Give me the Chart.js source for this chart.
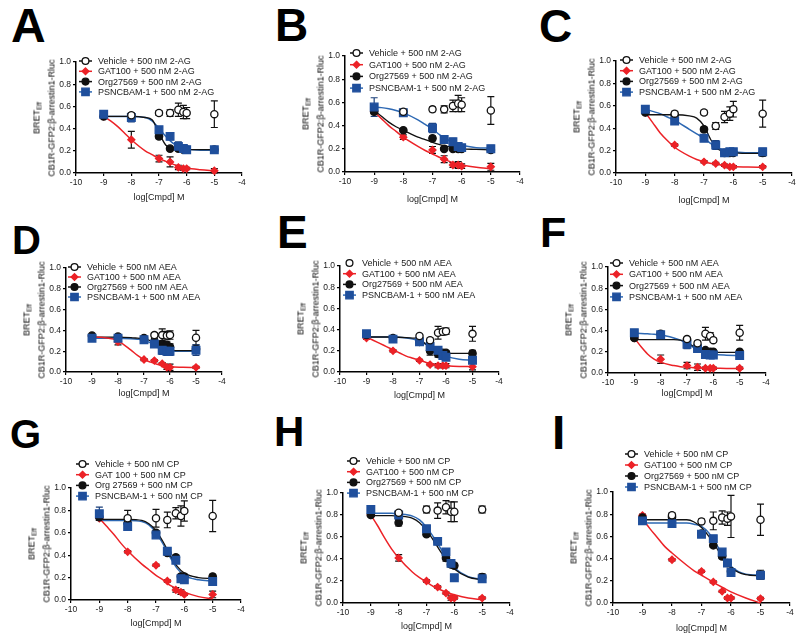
<!DOCTYPE html>
<html>
<head>
<meta charset="utf-8">
<script src="https://cdn.jsdelivr.net/npm/chart.js@4.4.1/dist/chart.umd.min.js"></script>
<style>
  html, body { margin:0; padding:0; background:#fff; }
  body { width:800px; height:638px; position:relative; overflow:hidden; font-family:"Liberation Sans", Arial, sans-serif; }
  canvas { position:absolute; }
  .letter { position:absolute; font-weight:bold; line-height:1; color:#000; }
  .ytitle { position:absolute; transform:translate(-50%,-50%) rotate(-90deg); white-space:nowrap; text-align:center; font-size:9px; line-height:12px; color:#000; }
  .ytitle sub { font-size:6.5px; vertical-align:-2px; }
</style>
</head>
<body>
<div class="letter" style="left:11px;top:2px;font-size:48px">A</div>
<div class="letter" style="left:275px;top:2px;font-size:46px">B</div>
<div class="letter" style="left:539px;top:3px;font-size:46px">C</div>
<div class="letter" style="left:12px;top:220px;font-size:40px">D</div>
<div class="letter" style="left:277px;top:209px;font-size:46px">E</div>
<div class="letter" style="left:540px;top:211px;font-size:43px">F</div>
<div class="letter" style="left:10px;top:414px;font-size:40px">G</div>
<div class="letter" style="left:274px;top:411px;font-size:42px">H</div>
<div class="letter" style="left:552px;top:409px;font-size:48px">I</div>

<script>
// doses (log M) used in every panel, and x positions
const doses = [-9, -8, -7, -6.6, -6.3, -6.12, -6, -5];
const fitX = [-9, -8.75, -8.5, -8.25, -8, -7.5, -7.25, -7, -6.75, -6.5, -6.25, -6, -5.5, -5];

// legend texts
const legend2AG = ['Vehicle + 500 nM 2-AG', 'GAT100 + 500 nM 2-AG', 'Org27569 + 500 nM 2-AG', 'PSNCBAM-1 + 500 nM 2-AG'];
const legendAEA = ['Vehicle + 500 nM AEA', 'GAT100 + 500 nM AEA', 'Org27569 + 500 nM AEA', 'PSNCBAM-1 + 500 nM AEA'];
const legendCPg = ['Vehicle + 500 nM CP', 'GAT 100 + 500 nM CP', 'Org 27569 + 500 nM CP', 'PSNCBAM-1 + 500 nM CP'];
const legendCP = ['Vehicle + 500 nM CP', 'GAT100 + 500 nM CP', 'Org27569 + 500 nM CP', 'PSNCBAM-1 + 500 nM CP'];

/* A: 2-AG */
const vehA = [null, 0.52, 0.54, 0.54, 0.57, 0.55, 0.54, 0.53];
const vehAErr = [0, 0.02, 0.02, 0.03, 0.06, 0.06, 0.05, 0.12];
const gatA = [0.51, 0.30, 0.13, 0.10, 0.05, 0.04, 0.04, 0.02];
const gatAErr = [0.01, 0.075, 0.03, 0.045, 0.02, 0.015, 0.01, 0.02];
const orgA = [0.51, 0.50, 0.33, 0.22, 0.22, 0.21, 0.21, 0.21];
const orgAErr = [0.01, 0.02, 0.02, 0.01, 0.01, 0.01, 0.01, 0.01];
const psnA = [0.53, 0.50, 0.39, 0.33, 0.24, 0.22, 0.21, 0.21];
const psnAErr = [0.03, 0.04, 0.02, 0.03, 0.04, 0.03, 0.03, 0.01];
const gatFitA = [0.51, 0.47, 0.42, 0.36, 0.30, 0.20, 0.165, 0.13, 0.105, 0.08, 0.06, 0.045, 0.03, 0.02];
const orgFitA = [0.51, 0.51, 0.51, 0.51, 0.51, 0.50, 0.48, 0.36, 0.25, 0.22, 0.212, 0.21, 0.21, 0.21];
const psnFitA = [0.51, 0.51, 0.51, 0.51, 0.51, 0.50, 0.47, 0.40, 0.33, 0.27, 0.235, 0.215, 0.205, 0.205];

/* B: 2-AG */
const vehB = [null, 0.52, 0.54, 0.54, 0.57, 0.59, 0.58, 0.53];
const vehBErr = [0, 0.02, 0.02, 0.03, 0.05, 0.07, 0.06, 0.12];
const gatB = [0.52, 0.30, 0.19, 0.11, 0.06, 0.06, 0.05, 0.045];
const gatBErr = [0.01, 0.02, 0.03, 0.03, 0.02, 0.03, 0.02, 0.03];
const orgB = [0.52, 0.36, 0.29, 0.20, 0.20, 0.20, 0.20, 0.19];
const orgBErr = [0.02, 0.01, 0.02, 0.01, 0.01, 0.01, 0.01, 0.01];
const psnB = [0.56, 0.51, 0.38, 0.28, 0.26, 0.22, 0.21, 0.20];
const psnBErr = [0.08, 0.03, 0.04, 0.02, 0.03, 0.03, 0.02, 0.03];
const gatFitB = [0.52, 0.46, 0.40, 0.35, 0.30, 0.22, 0.185, 0.155, 0.125, 0.10, 0.075, 0.06, 0.04, 0.03];
const orgFitB = [0.53, 0.48, 0.43, 0.39, 0.36, 0.30, 0.28, 0.255, 0.235, 0.22, 0.21, 0.20, 0.195, 0.19];
const psnFitB = [0.56, 0.555, 0.545, 0.53, 0.51, 0.45, 0.41, 0.37, 0.32, 0.28, 0.25, 0.23, 0.21, 0.205];

/* C: 2-AG */
const vehC = [null, 0.53, 0.54, 0.42, 0.50, 0.53, 0.57, 0.53];
const vehCErr = [0, 0.02, 0.02, 0.03, 0.05, 0.06, 0.07, 0.12];
const gatC = [0.54, 0.25, 0.10, 0.085, 0.07, 0.055, 0.055, 0.055];
const gatCErr = [0.01, 0.01, 0.01, 0.01, 0.01, 0.01, 0.01, 0.01];
const orgC = [0.54, 0.52, 0.39, 0.25, 0.18, 0.18, 0.18, 0.18];
const orgCErr = [0.01, 0.01, 0.02, 0.03, 0.02, 0.02, 0.02, 0.03];
const psnC = [0.57, 0.465, 0.31, 0.25, 0.18, 0.19, 0.19, 0.19];
const psnCErr = [0.01, 0.02, 0.02, 0.04, 0.03, 0.02, 0.02, 0.03];
const gatFitC = [0.54, 0.45, 0.36, 0.29, 0.23, 0.15, 0.12, 0.10, 0.085, 0.075, 0.065, 0.058, 0.053, 0.052];
const orgFitC = [0.52, 0.52, 0.52, 0.52, 0.52, 0.51, 0.49, 0.42, 0.29, 0.21, 0.185, 0.18, 0.175, 0.175];
const psnFitC = [0.57, 0.55, 0.53, 0.50, 0.47, 0.39, 0.35, 0.31, 0.26, 0.22, 0.20, 0.19, 0.18, 0.18];

/* D: AEA */
const vehD = [null, null, null, 0.355, 0.355, 0.35, 0.355, 0.33];
const vehDErr = [0, 0, 0, 0.02, 0.06, 0.04, 0.04, 0.07];
const gatD = [0.34, 0.29, 0.12, 0.11, 0.08, 0.045, 0.045, 0.045];
const gatDErr = [0.01, 0.03, 0.01, 0.01, 0.01, 0.02, 0.03, 0.01];
const orgD = [0.35, 0.34, 0.325, 0.29, 0.27, 0.26, 0.24, 0.22];
const orgDErr = [0.01, 0.01, 0.01, 0.03, 0.03, 0.03, 0.03, 0.03];
const psnD = [0.325, 0.325, 0.31, 0.27, 0.21, 0.20, 0.20, 0.21];
const psnDErr = [0.01, 0.01, 0.01, 0.02, 0.04, 0.04, 0.04, 0.05];
const gatFitD = [0.34, 0.335, 0.33, 0.32, 0.30, 0.21, 0.16, 0.12, 0.095, 0.075, 0.06, 0.05, 0.045, 0.042];
const orgFitD = [0.335, 0.335, 0.335, 0.335, 0.335, 0.33, 0.325, 0.32, 0.30, 0.26, 0.225, 0.21, 0.205, 0.205];
const psnFitD = [0.325, 0.325, 0.325, 0.325, 0.325, 0.32, 0.315, 0.305, 0.28, 0.24, 0.215, 0.205, 0.20, 0.20];

/* E: AEA */
const vehE = [null, null, 0.34, 0.30, 0.37, 0.38, 0.385, 0.36];
const vehEErr = [0, 0, 0.01, 0.02, 0.06, 0.03, 0.03, 0.07];
const gatE = [0.32, 0.20, 0.11, 0.07, 0.06, 0.06, 0.06, 0.05];
const gatEErr = [0.01, 0.01, 0.01, 0.01, 0.02, 0.02, 0.02, 0.03];
const orgE = [0.35, 0.32, 0.285, 0.20, 0.17, 0.18, 0.18, 0.175];
const orgEErr = [0.01, 0.01, 0.02, 0.04, 0.03, 0.02, 0.02, 0.03];
const psnE = [0.36, 0.31, 0.285, 0.24, 0.205, 0.155, 0.14, 0.11];
const psnEErr = [0.02, 0.02, 0.02, 0.02, 0.02, 0.02, 0.02, 0.03];
const gatFitE = [0.33, 0.30, 0.27, 0.24, 0.21, 0.15, 0.13, 0.11, 0.09, 0.075, 0.065, 0.06, 0.053, 0.05];
const orgFitE = [0.33, 0.33, 0.33, 0.33, 0.33, 0.325, 0.32, 0.31, 0.26, 0.21, 0.185, 0.178, 0.175, 0.175];
const psnFitE = [0.33, 0.33, 0.33, 0.33, 0.33, 0.32, 0.31, 0.29, 0.26, 0.22, 0.18, 0.15, 0.12, 0.11];

/* F: AEA */
const vehF = [null, null, 0.32, 0.28, 0.37, 0.35, 0.31, 0.38];
const vehFErr = [0, 0, 0.01, 0.02, 0.06, 0.03, 0.02, 0.07];
const gatF = [0.33, 0.13, 0.07, 0.055, 0.045, 0.045, 0.045, 0.045];
const gatFErr = [0.01, 0.04, 0.03, 0.03, 0.01, 0.01, 0.01, 0.01];
const orgF = [0.33, 0.37, 0.315, 0.245, 0.215, 0.20, 0.20, 0.20];
const orgFErr = [0.01, 0.01, 0.01, 0.02, 0.01, 0.01, 0.01, 0.01];
const psnF = [0.38, 0.36, 0.27, 0.23, 0.175, 0.17, 0.17, 0.165];
const psnFErr = [0.03, 0.01, 0.04, 0.02, 0.02, 0.02, 0.02, 0.02];
const gatFitF = [0.33, 0.25, 0.18, 0.13, 0.10, 0.07, 0.06, 0.055, 0.05, 0.047, 0.045, 0.045, 0.043, 0.043];
const orgFitF = [0.315, 0.315, 0.315, 0.315, 0.315, 0.315, 0.31, 0.29, 0.25, 0.215, 0.20, 0.195, 0.195, 0.195];
const psnFitF = [0.375, 0.373, 0.37, 0.365, 0.36, 0.33, 0.31, 0.28, 0.24, 0.21, 0.185, 0.175, 0.168, 0.165];

/* G: CP */
const vehG = [null, 0.73, 0.73, 0.715, 0.775, 0.75, 0.795, 0.75];
const vehGErr = [0, 0.07, 0.08, 0.07, 0.05, 0.09, 0.09, 0.14];
const gatG = [0.73, 0.43, 0.31, 0.17, 0.09, 0.07, 0.05, 0.05];
const gatGErr = [0.01, 0.01, 0.01, 0.01, 0.02, 0.02, 0.01, 0.03];
const orgG = [0.74, 0.685, 0.60, 0.42, 0.38, 0.21, 0.21, 0.21];
const orgGErr = [0.03, 0.03, 0.02, 0.02, 0.02, 0.02, 0.02, 0.02];
const psnG = [0.77, 0.655, 0.58, 0.435, 0.355, 0.19, 0.18, 0.165];
const psnGErr = [0.06, 0.03, 0.02, 0.02, 0.02, 0.03, 0.03, 0.02];
const gatFitG = [0.73, 0.66, 0.59, 0.51, 0.44, 0.32, 0.27, 0.22, 0.18, 0.13, 0.10, 0.07, 0.03, 0.01];
const orgFitG = [0.72, 0.72, 0.72, 0.72, 0.72, 0.71, 0.68, 0.62, 0.52, 0.40, 0.30, 0.24, 0.20, 0.19];
const psnFitG = [0.71, 0.71, 0.71, 0.71, 0.71, 0.70, 0.67, 0.60, 0.50, 0.38, 0.28, 0.22, 0.18, 0.17];

/* H: CP */
const vehH = [null, 0.82, 0.85, 0.84, 0.87, 0.83, 0.83, 0.85];
const vehHErr = [0, 0.01, 0.03, 0.07, 0.06, 0.09, 0.09, 0.03];
const gatH = [0.80, 0.41, 0.20, 0.145, 0.09, 0.045, 0.045, 0.045];
const gatHErr = [0.01, 0.03, 0.01, 0.01, 0.01, 0.02, 0.01, 0.01];
const orgH = [0.80, 0.73, 0.625, 0.56, 0.41, 0.35, 0.34, 0.235];
const orgHErr = [0.01, 0.03, 0.02, 0.02, 0.03, 0.02, 0.02, 0.03];
const psnH = [0.85, 0.80, 0.675, 0.56, 0.465, 0.36, 0.23, 0.22];
const psnHErr = [0.02, 0.02, 0.02, 0.02, 0.02, 0.03, 0.02, 0.02];
const gatFitH = [0.80, 0.70, 0.59, 0.49, 0.41, 0.28, 0.23, 0.19, 0.15, 0.12, 0.095, 0.075, 0.045, 0.03];
const orgFitH = [0.795, 0.795, 0.795, 0.795, 0.79, 0.77, 0.73, 0.66, 0.57, 0.47, 0.38, 0.31, 0.235, 0.21];
const psnFitH = [0.815, 0.815, 0.815, 0.815, 0.81, 0.79, 0.755, 0.69, 0.60, 0.50, 0.40, 0.32, 0.24, 0.215];

/* I: CP */
const vehI = [null, 0.79, 0.735, 0.74, 0.77, 0.76, 0.78, 0.75];
const vehIErr = [0, 0.02, 0.02, 0.08, 0.06, 0.06, 0.19, 0.14];
const gatI = [0.79, 0.39, 0.285, 0.19, 0.105, 0.045, 0.045, 0.04];
const gatIErr = [0.01, 0.01, 0.01, 0.01, 0.01, 0.01, 0.01, 0.01];
const orgI = [0.77, 0.775, 0.625, 0.52, 0.42, 0.36, 0.285, 0.255];
const orgIErr = [0.01, 0.01, 0.02, 0.02, 0.02, 0.03, 0.02, 0.04];
const psnI = [0.74, 0.715, 0.62, 0.58, 0.46, 0.36, 0.275, 0.25];
const psnIErr = [0.01, 0.02, 0.02, 0.02, 0.02, 0.03, 0.02, 0.03];
const gatFitI = [0.76, 0.67, 0.59, 0.51, 0.45, 0.34, 0.29, 0.25, 0.21, 0.17, 0.135, 0.10, 0.045, 0.0];
const orgFitI = [0.75, 0.75, 0.75, 0.75, 0.75, 0.75, 0.73, 0.68, 0.60, 0.50, 0.40, 0.32, 0.255, 0.245];
const psnFitI = [0.72, 0.72, 0.72, 0.72, 0.72, 0.72, 0.71, 0.69, 0.63, 0.53, 0.42, 0.33, 0.26, 0.25];

const RED = '#ec2227', BLACK = '#111', BLUE = '#1f4f9c', BLUE_LINE = '#2d68b3';
const FONT = '"Liberation Sans", Arial, sans-serif';

// where each panel's axes sit on the page
const panels = [
  { X0:76,  X1:242, Y1:62,  Y0:173, xh:34, pt:10, lx:3,  ly:-1,  gap:10.3, labels:legend2AG, vehLine:true,
    veh:vehA, vehE:vehAErr, gat:gatA, gatE:gatAErr, org:orgA, orgE:orgAErr, psn:psnA, psnE:psnAErr, gf:gatFitA, of:orgFitA, pf:psnFitA },
  { X0:345, X1:520, Y1:56,  Y0:172, xh:37, pt:10, lx:5,  ly:-3,  gap:11.7, labels:legend2AG, vehLine:true,
    veh:vehB, vehE:vehBErr, gat:gatB, gatE:gatBErr, org:orgB, orgE:orgBErr, psn:psnB, psnE:psnBErr, gf:gatFitB, of:orgFitB, pf:psnFitB },
  { X0:616, X1:792, Y1:61,  Y0:173, xh:37, pt:10, lx:4,  ly:-1,  gap:10.7, labels:legend2AG, vehLine:true,
    veh:vehC, vehE:vehCErr, gat:gatC, gatE:gatCErr, org:orgC, orgE:orgCErr, psn:psnC, psnE:psnCErr, gf:gatFitC, of:orgFitC, pf:psnFitC },
  { X0:66,  X1:222, Y1:268, Y0:372, xh:31, pt:10, lx:2,  ly:-1,  gap:10,   labels:legendAEA, vehLine:true,
    veh:vehD, vehE:vehDErr, gat:gatD, gatE:gatDErr, org:orgD, orgE:orgDErr, psn:psnD, psnE:psnDErr, gf:gatFitD, of:orgFitD, pf:psnFitD },
  { X0:340, X1:499, Y1:266, Y0:372, xh:33, pt:10, lx:3,  ly:-3,  gap:10.7, labels:legendAEA, vehLine:false,
    veh:vehE, vehE:vehEErr, gat:gatE, gatE:gatEErr, org:orgE, orgE:orgEErr, psn:psnE, psnE:psnEErr, gf:gatFitE, of:orgFitE, pf:psnFitE },
  { X0:608, X1:766, Y1:267, Y0:373, xh:30, pt:10, lx:2,  ly:-4,  gap:11.3, labels:legendAEA, vehLine:true,
    veh:vehF, vehE:vehFErr, gat:gatF, gatE:gatFErr, org:orgF, orgE:orgFErr, psn:psnF, psnE:psnFErr, gf:gatFitF, of:orgFitF, pf:psnFitF },
  { X0:71,  X1:241, Y1:488, Y0:600, xh:33, pt:32, lx:5,  ly:-24, gap:10.7, labels:legendCPg, vehLine:true,
    veh:vehG, vehE:vehGErr, gat:gatG, gatE:gatGErr, org:orgG, orgE:orgGErr, psn:psnG, psnE:psnGErr, gf:gatFitG, of:orgFitG, pf:psnFitG },
  { X0:343, X1:510, Y1:493, Y0:603, xh:33, pt:40, lx:4,  ly:-32, gap:10.7, labels:legendCP, vehLine:true,
    veh:vehH, vehE:vehHErr, gat:gatH, gatE:gatHErr, org:orgH, orgE:orgHErr, psn:psnH, psnE:psnHErr, gf:gatFitH, of:orgFitH, pf:psnFitH },
  { X0:613, X1:790, Y1:492, Y0:603, xh:35, pt:45, lx:12, ly:-38, gap:11,   labels:legendCP, vehLine:true,
    veh:vehI, vehE:vehIErr, gat:gatI, gatE:gatIErr, org:orgI, orgE:orgIErr, psn:psnI, psnE:psnIErr, gf:gatFitI, of:orgFitI, pf:psnFitI }
];

function pts(ys, errs) {
  let out = [];
  doses.forEach((x, i) => { if (ys[i] != null) out.push({ x: x, y: ys[i], e: errs[i] }); });
  return out;
}
function curve(ys) { return fitX.map((x, i) => ({ x: x, y: ys[i] })); }

function marker(ctx, style, x, y, color, fill) {
  ctx.save();
  ctx.fillStyle = fill; ctx.strokeStyle = color; ctx.lineWidth = 1.3;
  ctx.beginPath();
  if (style === 'circle') ctx.arc(x, y, 3.4, 0, Math.PI * 2);
  else if (style === 'rect') ctx.rect(x - 3.7, y - 3.7, 7.4, 7.4);
  else { ctx.moveTo(x, y - 3.4); ctx.lineTo(x + 3.4, y); ctx.lineTo(x, y + 3.4); ctx.lineTo(x - 3.4, y); ctx.closePath(); }
  ctx.fill(); ctx.stroke();
  ctx.restore();
}

// GraphPad-like legend inside / above the plot
const panelLegend = {
  id: 'panelLegend',
  afterDraw(chart, args, o) {
    const ctx = chart.ctx, a = chart.chartArea;
    ctx.save();
    ctx.font = '9px ' + FONT;
    ctx.textBaseline = 'middle';
    let y = a.top + o.dy;
    o.items.forEach(it => {
      const x0 = a.left + o.dx;
      if (it.line) {
        ctx.strokeStyle = it.lineColor; ctx.lineWidth = 1.5;
        ctx.beginPath(); ctx.moveTo(x0, y); ctx.lineTo(x0 + 13, y); ctx.stroke();
      }
      marker(ctx, it.style, x0 + 6.5, y, it.color, it.fill);
      ctx.fillStyle = '#1a1a1a';
      ctx.fillText(it.text, x0 + 19, y + 0.5);
      y += o.gap;
    });
    ctx.restore();
  }
};

// vertical SEM bars, drawn behind the symbols
const errBars = {
  id: 'errBars',
  beforeDatasetsDraw(chart) {
    const ctx = chart.ctx, ys = chart.scales.y;
    ctx.save();
    chart.data.datasets.forEach((ds, di) => {
      if (!ds.errColor) return;
      const meta = chart.getDatasetMeta(di);
      meta.data.forEach((p, i) => {
        const d = ds.data[i];
        if (!d.e) return;
        const t = ys.getPixelForValue(d.y + d.e), b = ys.getPixelForValue(d.y - d.e);
        ctx.strokeStyle = ds.errColor; ctx.lineWidth = 1.2;
        ctx.beginPath();
        ctx.moveTo(p.x, t); ctx.lineTo(p.x, b);
        ctx.moveTo(p.x - 3.5, t); ctx.lineTo(p.x + 3.5, t);
        ctx.moveTo(p.x - 3.5, b); ctx.lineTo(p.x + 3.5, b);
        ctx.stroke();
      });
    });
    ctx.restore();
  }
};

const YW = 30;

panels.forEach(p => {
  const cv = document.createElement('canvas');
  const w = YW + (p.X1 - p.X0) + 12;
  const h = p.pt + (p.Y0 - p.Y1) + p.xh;
  cv.width = w; cv.height = h;
  cv.style.left = (p.X0 - YW) + 'px';
  cv.style.top = (p.Y1 - p.pt) + 'px';
  cv.style.width = w + 'px'; cv.style.height = h + 'px';
  document.body.appendChild(cv);

  const yt = document.createElement('div');
  yt.className = 'ytitle';
  yt.style.left = (p.X0 - 32) + 'px';
  yt.style.top = ((p.Y0 + p.Y1) / 2) + 'px';
  yt.innerHTML = 'BRET<sub>Eff</sub><br>CB1R-GFP2:β-arrestin1-Rluc';
  document.body.appendChild(yt);

  const scat = (label, data, style, r, color, fill, errColor) => ({
    label: label, data: data, showLine: false, pointStyle: style, pointRadius: r,
    pointBackgroundColor: fill, pointBorderColor: color, pointBorderWidth: 1.3,
    errColor: errColor, clip: 6
  });
  const fit = (data, color, bw) => ({
    data: data, showLine: true, pointRadius: 0, borderColor: color, borderWidth: bw,
    cubicInterpolationMode: 'monotone', clip: 4
  });

  const datasets = [
    scat(p.labels[0], pts(p.veh, p.vehE), 'circle', 3.6, BLACK, '#fff', BLACK),
    scat(p.labels[3], pts(p.psn, p.psnE), 'rect', 5.4, BLUE, BLUE, '#1a3f7a'),
    scat(p.labels[2], pts(p.org, p.orgE), 'circle', 3.7, BLACK, BLACK, BLACK),
    scat(p.labels[1], pts(p.gat, p.gatE), 'rectRot', 3.5, RED, RED, BLACK),
    fit(curve(p.gf), RED, 1.5),
    fit(curve(p.of), BLACK, 1.3),
    fit(curve(p.pf), BLUE_LINE, 1.5)
  ];

  const tickFont = { family: FONT, size: 8.5 };
  new Chart(cv, {
    type: 'scatter',
    data: { datasets: datasets },
    plugins: [panelLegend, errBars],
    options: {
      responsive: false, animation: false, events: [],
      layout: { padding: { top: p.pt, right: 12, left: 0, bottom: 0 } },
      plugins: {
        legend: { display: false },
        tooltip: { enabled: false },
        panelLegend: {
          dx: p.lx, dy: p.ly, gap: p.gap,
          items: [
            { text: p.labels[0], style: 'circle', color: BLACK, fill: '#fff', line: p.vehLine, lineColor: BLACK },
            { text: p.labels[1], style: 'diamond', color: RED, fill: RED, line: true, lineColor: RED },
            { text: p.labels[2], style: 'circle', color: BLACK, fill: BLACK, line: true, lineColor: BLACK },
            { text: p.labels[3], style: 'rect', color: BLUE, fill: BLUE, line: true, lineColor: BLUE_LINE }
          ]
        }
      },
      scales: {
        x: {
          type: 'linear', min: -10, max: -4,
          ticks: { stepSize: 1, font: tickFont, color: '#1a1a1a', padding: 2, maxRotation: 0 },
          grid: { drawOnChartArea: false, drawTicks: true, tickLength: 3, color: '#000', lineWidth: 1.2 },
          border: { color: '#000', width: 1.5 },
          title: { display: true, text: 'log[Cmpd] M', font: { family: FONT, size: 9 }, color: '#1a1a1a', padding: { top: 0, bottom: 4 } },
          afterFit: s => { s.height = p.xh; }
        },
        y: {
          min: 0, max: 1,
          ticks: { stepSize: 0.2, font: tickFont, color: '#1a1a1a', padding: 2, callback: v => v.toFixed(1) },
          grid: { drawOnChartArea: false, drawTicks: true, tickLength: 3, color: '#000', lineWidth: 1.2 },
          border: { color: '#000', width: 1.5 },
          afterFit: s => { s.width = YW; }
        }
      }
    }
  });
});
</script>
</body>
</html>
